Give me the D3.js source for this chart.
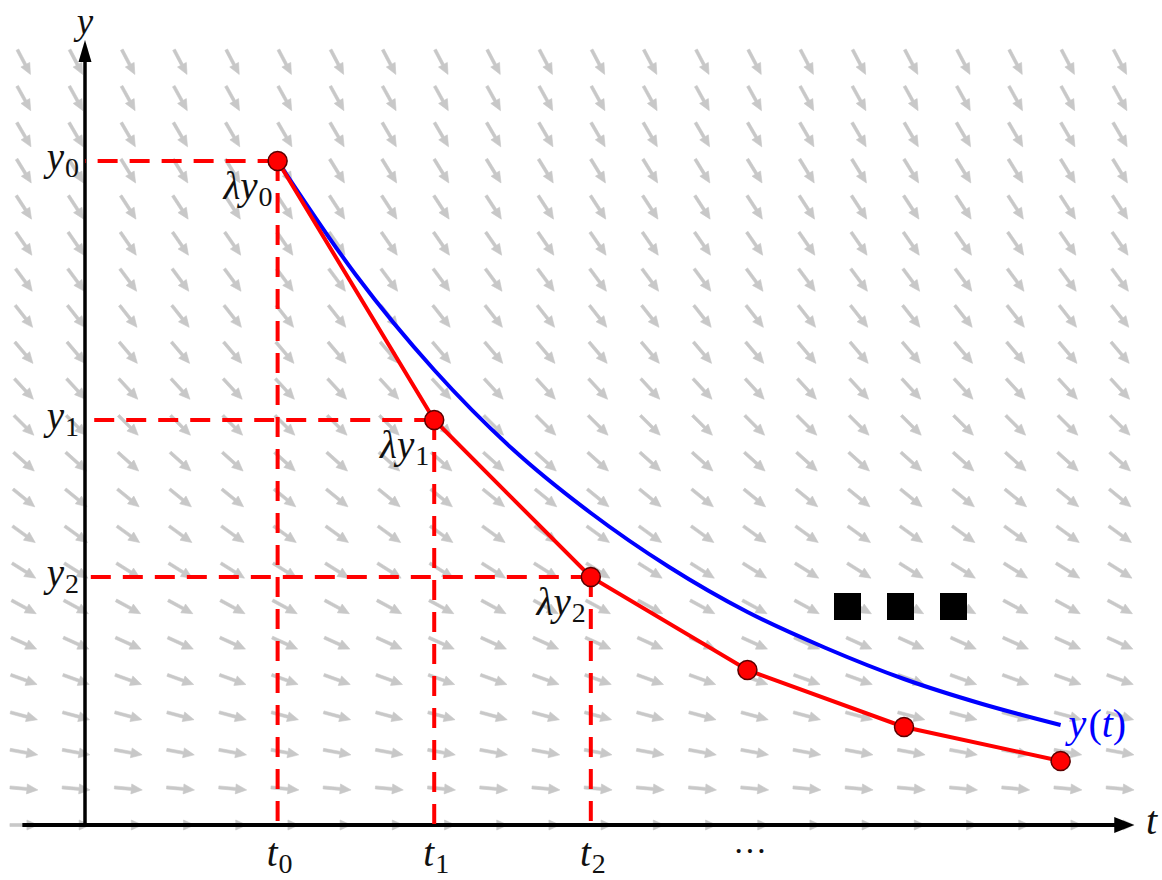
<!DOCTYPE html>
<html>
<head>
<meta charset="utf-8">
<script src="https://cdn.jsdelivr.net/npm/d3@7"></script>
<style>
  body { margin: 0; background: #fff; }
  text { font-family: "Liberation Serif", "DejaVu Serif", serif; }
</style>
</head>
<body>
<div id="chart"></div>
<script>
// Euler steps (h = 1) and the exact solution
const stepT = [1.23, 2.23, 3.23, 4.23, 5.23, 6.23];
const eulerY = [6.64, 4.05, 2.48, 1.55, 0.98, 0.64];
const exactT = [1.23, 1.73, 2.23, 2.73, 3.23, 3.73, 4.23, 4.73, 5.23, 5.73, 6.23];
const exactY = [6.64, 5.50, 4.55, 3.76, 3.12, 2.58, 2.13, 1.77, 1.46, 1.21, 1.00];
const tLabels = ["0", "1", "2"];
const yLabels = ["0", "1", "2"];
const lambda = 0.39; // y' = -lambda * y

const width = 1162, height = 880;

const x = d3.scaleLinear().domain([0, 7]).range([85, 85 + 7 * 156.6]);
const y = d3.scaleLinear().domain([0, 8.25]).range([825, 0]);

const svg = d3.select("#chart")
  .append("svg")
  .attr("width", width)
  .attr("height", height)
  .attr("viewBox", [0, 0, width, height]);

// slope field
const fieldT = d3.range(22).map(i => -0.39 + i / 3);
const fieldY = d3.range(22).map(j => j * 0.3633);
const cells = [];
for (let ty of fieldY) for (let tt of fieldT) cells.push([tt, ty]);

const arrowLen = 28;
svg.append("g")
  .selectAll("path")
  .data(cells)
  .join("path")
  .attr("fill", "#c8c8c8")
  .attr("stroke", "#c8c8c8")
  .attr("stroke-width", 0.6)
  .attr("d", d => {
    const dx = x(1) - x(0);
    const dy = (y(0) - y(1)) * lambda * d[1];
    const ang = Math.atan2(dy, dx);
    const L = arrowLen, hl = 11, hw = 5, sw = 1.5;
    // arrow along +x centred at origin, then rotated
    const pts = [
      [-L / 2, -sw], [L / 2 - hl, -sw], [L / 2 - hl, -hw], [L / 2, 0],
      [L / 2 - hl, hw], [L / 2 - hl, sw], [-L / 2, sw]
    ];
    const cx = x(d[0]), cy = y(d[1]);
    const c = Math.cos(ang), s = Math.sin(ang);
    return "M" + pts.map(p => [cx + p[0] * c - p[1] * s, cy + p[0] * s + p[1] * c].join(",")).join("L") + "Z";
  });

// axes
const tMin = -0.4, tMax = 6.7, yTop = 7.85;
svg.append("line")
  .attr("x1", x(tMin)).attr("x2", x(tMax) - 15)
  .attr("y1", y(0)).attr("y2", y(0))
  .attr("stroke", "#000").attr("stroke-width", 4);
svg.append("path")
  .attr("d", `M${x(tMax)},${y(0)}L${x(tMax) - 20},${y(0) - 8}L${x(tMax) - 20},${y(0) + 8}Z`)
  .attr("fill", "#000");
svg.append("line")
  .attr("x1", x(0)).attr("x2", x(0))
  .attr("y1", y(0)).attr("y2", y(yTop) + 15)
  .attr("stroke", "#000").attr("stroke-width", 3.5);
svg.append("path")
  .attr("d", `M${x(0)},${y(yTop)}L${x(0) - 6.5},${y(yTop) + 22}L${x(0) + 6.5},${y(yTop) + 22}Z`)
  .attr("fill", "#000");

// dashed guides
const guides = svg.append("g")
  .attr("stroke", "#ff0000")
  .attr("stroke-width", 4)
  .attr("stroke-dasharray", "20,12");
for (let i = 0; i < 3; i++) {
  guides.append("line")
    .attr("x1", x(stepT[i])).attr("x2", x(0))
    .attr("y1", y(eulerY[i])).attr("y2", y(eulerY[i]));
  guides.append("line")
    .attr("x1", x(stepT[i])).attr("x2", x(stepT[i]))
    .attr("y1", y(eulerY[i])).attr("y2", y(0));
}

// exact solution
svg.append("path")
  .datum(exactT.map((t, i) => [t, exactY[i]]))
  .attr("fill", "none")
  .attr("stroke", "#0000ff")
  .attr("stroke-width", 4)
  .attr("d", d3.line().x(d => x(d[0])).y(d => y(d[1])).curve(d3.curveMonotoneX));

// Euler polyline
const euler = stepT.map((t, i) => [t, eulerY[i]]);
svg.append("path")
  .datum(euler)
  .attr("fill", "none")
  .attr("stroke", "#ff0000")
  .attr("stroke-width", 4)
  .attr("d", d3.line().x(d => x(d[0])).y(d => y(d[1])));

svg.append("g")
  .selectAll("circle")
  .data(euler)
  .join("circle")
  .attr("cx", d => x(d[0]))
  .attr("cy", d => y(d[1]))
  .attr("r", 9.5)
  .attr("fill", "#ff0000")
  .attr("stroke", "#5a0000")
  .attr("stroke-width", 1.5);

// labels
const mainSize = 39, subSize = 28;
function mathLabel(g, px, py, main, sub, anchor) {
  const t = g.append("text")
    .attr("x", px).attr("y", py)
    .attr("text-anchor", anchor)
    .attr("fill", "#111");
  t.append("tspan").attr("font-style", "italic").attr("font-size", mainSize).text(main);
  t.append("tspan").attr("font-size", subSize).attr("dx", 1).attr("dy", 7).text(sub);
  return t;
}

const labels = svg.append("g");
yLabels.forEach((s, i) => mathLabel(labels, 79, y(eulerY[i]) + 9, "y", s, "end"));
tLabels.forEach((s, i) => mathLabel(labels, x(stepT[i]) + 2, 866, "t", s, "middle"));
eulerY.slice(0, 3).forEach((v, i) =>
  mathLabel(labels, x(stepT[i]) - 5, y(v) + 38, "λy", yLabels[i], "end"));

labels.append("text")
  .attr("x", 750).attr("y", 862)
  .attr("text-anchor", "middle")
  .attr("font-size", 34)
  .attr("fill", "#111")
  .text("···");

labels.append("text")
  .attr("x", x(0)).attr("y", 34)
  .attr("text-anchor", "middle")
  .attr("font-style", "italic")
  .attr("font-size", 37)
  .attr("fill", "#111")
  .text("y");

labels.append("text")
  .attr("x", 1146).attr("y", 834)
  .attr("font-style", "italic")
  .attr("font-size", 40)
  .attr("fill", "#111")
  .text("t");

const yt = labels.append("text")
  .attr("x", x(exactT[exactT.length - 1]) + 8).attr("y", 737)
  .attr("font-size", 40)
  .attr("fill", "#0000ff");
yt.append("tspan").attr("font-style", "italic").text("y");
yt.append("tspan").attr("dx", 2).text("(");
yt.append("tspan").attr("font-style", "italic").text("t");
yt.append("tspan").text(")");

// big dots
svg.append("g")
  .selectAll("rect")
  .data([834, 887, 940])
  .join("rect")
  .attr("x", d => d).attr("y", 593)
  .attr("width", 27).attr("height", 27)
  .attr("fill", "#000");
</script>
</body>
</html>
